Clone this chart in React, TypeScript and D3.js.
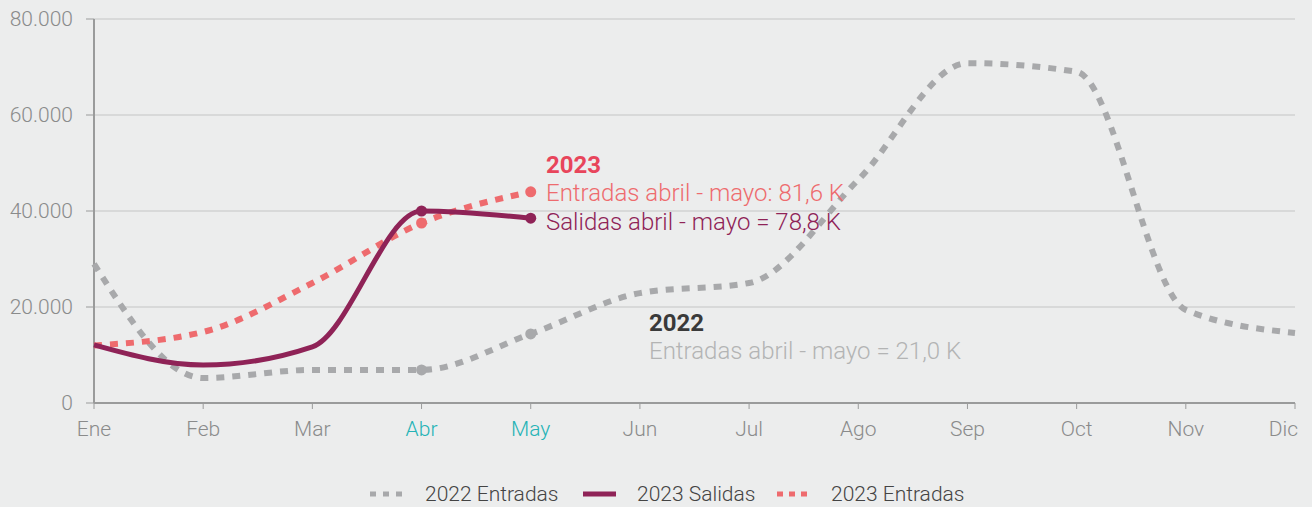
import React from "react";
import * as d3 from "d3";

const months = ["Ene", "Feb", "Mar", "Abr", "May", "Jun", "Jul", "Ago", "Sep", "Oct", "Nov", "Dic"];
const entradas2022 = [29000, 5200, 6900, 6900, 14400, 22900, 25000, 46500, 70800, 69000, 19400, 14600];
const salidas2023 = [12100, 7900, 11700, 40000, 38500];
const entradas2023 = [12000, 14800, 25000, 37500, 44000];
const yTicks = [0, 20000, 40000, 60000, 80000];
const highlightMonths = ["Abr", "May"];

const W = 1312, H = 507;
const M = { left: 94, right: 1295, top: 19, bottom: 403 };
const FONT = "Roboto, 'Noto Sans', sans-serif";

const C2022 = "#a8a9ab";
const CSAL = "#8f2357";
const CENT = "#ee6b6e";

export default function App() {
  const x = d3.scalePoint<string>().domain(months).range([M.left, M.right]);
  const y = d3.scaleLinear().domain([0, 80000]).range([M.bottom, M.top]);
  const line = d3
    .line<number>()
    .x((_, i) => x(months[i]) as number)
    .y((d) => y(d))
    .curve(d3.curveMonotoneX);
  const fmt = (v: number) => (v === 0 ? "0" : d3.format(",")(v).replace(/,/g, "."));

  const markers = (vals: number[], color: string) =>
    highlightMonths.map((m) => {
      const i = months.indexOf(m);
      return <circle key={m} cx={x(m)} cy={y(vals[i])} r={5.5} fill={color} />;
    });

  const last = months[months.length - 1];

  return (
    <svg width={W} height={H} style={{ position: "absolute", left: 0, top: 0, background: "#eceded", fontFamily: FONT }}>
      <rect width={W} height={H} fill="#eceded" />
      {yTicks.map((t) => (
        <g key={t}>
          {t > 0 && <line x1={M.left} x2={M.right} y1={y(t)} y2={y(t)} stroke="#c4c5c5" strokeWidth={1} />}
          <line x1={M.left - 8} x2={M.left} y1={y(t)} y2={y(t)} stroke="#9a9b9b" strokeWidth={1} />
          <text x={73} y={y(t)} dy="0.35em" textAnchor="end" fontSize={21} fontWeight={300} fill="#8a8b8b">
            {fmt(t)}
          </text>
        </g>
      ))}
      <line x1={M.left} x2={M.left} y1={M.top} y2={M.bottom} stroke="#9a9b9b" strokeWidth={2} />
      <line x1={M.left} x2={M.right} y1={M.bottom} y2={M.bottom} stroke="#9a9b9b" strokeWidth={2} />
      {months.map((m) => (
        <g key={m}>
          <line x1={x(m)} x2={x(m)} y1={M.bottom} y2={M.bottom + 6} stroke="#9a9b9b" strokeWidth={1} />
          <text
            x={m === last ? (x(m) as number) + 3 : x(m)}
            y={436}
            textAnchor={m === last ? "end" : "middle"}
            fontSize={21}
            fontWeight={300}
            fill={highlightMonths.includes(m) ? "#25b3b6" : "#8a8b8b"}
          >
            {m}
          </text>
        </g>
      ))}

      <path d={line(entradas2022) as string} fill="none" stroke={C2022} strokeWidth={6} strokeDasharray="8,8" />
      {markers(entradas2022, C2022)}
      <path d={line(entradas2023) as string} fill="none" stroke={CENT} strokeWidth={6} strokeDasharray="8,8" />
      {markers(entradas2023, CENT)}
      <path d={line(salidas2023) as string} fill="none" stroke={CSAL} strokeWidth={5} />
      {markers(salidas2023, CSAL)}

      <g fontSize={24}>
        <text x={546} y={173} fontWeight={700} fill="#e8455b">2023</text>
        <text x={546} y={201} fontWeight={300} fill={CENT}>Entradas abril - mayo: 81,6 K</text>
        <text x={546} y={230} fontWeight={300} fill={CSAL}>Salidas abril - mayo = 78,8 K</text>
        <text x={649} y={331} fontWeight={700} fill="#3a3a3a">2022</text>
        <text x={649} y={359} fontWeight={300} fill="#b3b4b4">Entradas abril - mayo = 21,0 K</text>
      </g>

      <g fontSize={21} fontWeight={300} fill="#444">
        <line x1={370} x2={403} y1={494} y2={494} stroke={C2022} strokeWidth={5} strokeDasharray="6,7" />
        <text x={425} y={501}>2022 Entradas</text>
        <line x1={583} x2={616} y1={494} y2={494} stroke={CSAL} strokeWidth={5} />
        <text x={637} y={501}>2023 Salidas</text>
        <line x1={777} x2={808} y1={494} y2={494} stroke={CENT} strokeWidth={5} strokeDasharray="6,6" />
        <text x={831} y={501}>2023 Entradas</text>
      </g>
    </svg>
  );
}
